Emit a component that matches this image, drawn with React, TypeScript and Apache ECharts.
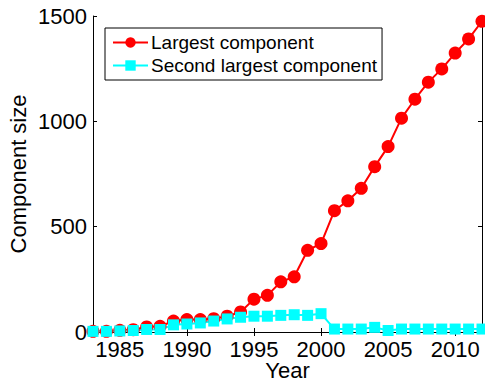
import React, { useEffect, useRef } from "react";
import * as echarts from "echarts";

const years = [
  1983, 1984, 1985, 1986, 1987, 1988, 1989, 1990, 1991, 1992, 1993, 1994, 1995, 1996, 1997,
  1998, 1999, 2000, 2001, 2002, 2003, 2004, 2005, 2006, 2007, 2008, 2009, 2010, 2011, 2012,
];
const largest = [
  3, 3, 8, 11, 24, 27, 52, 59, 59, 63, 75, 95, 156, 174, 238, 262, 388, 420, 576, 623, 682, 785,
  880, 1015, 1105, 1186, 1249, 1324, 1391, 1475,
];
const secondLargest = [
  3, 3, 5, 7, 12, 12, 34, 38, 43, 52, 62, 70, 75, 75, 79, 82, 79, 87, 14, 14, 14, 22, 7, 14, 14,
  14, 14, 14, 14, 14,
];
const yTicks = { min: 0, max: 1500, interval: 500 };

const FONT = "Liberation Sans, Arial, sans-serif";

export default function App() {
  const ref = useRef<HTMLDivElement>(null);
  useEffect(() => {
    if (!ref.current) return;
    const chart = echarts.init(ref.current, null, { renderer: "svg" });
    const cats = years.map(String);
    const showFive = (_i: number, v: string) => Number(v) % 5 === 0;
    chart.setOption({
      animation: false,
      textStyle: { fontFamily: FONT },
      grid: {
        left: 93,
        right: 3,
        top: 16,
        bottom: 46,
        containLabel: false,
        outerBoundsMode: "none",
      },
      legend: {
        orient: "vertical",
        left: 105,
        top: 28,
        padding: [5, 5, 5, 7],
        itemGap: 4,
        itemWidth: 35,
        itemHeight: 13,
        borderColor: "#000",
        borderWidth: 1,
        borderRadius: 0,
        backgroundColor: "#fff",
        textStyle: { fontFamily: FONT, fontSize: 19, color: "#000", padding: [0, 0, 0, -2] },
        data: ["Largest component", "Second largest component"],
      },
      xAxis: [
        {
          type: "category",
          data: cats,
          boundaryGap: false,
          name: "Year",
          nameLocation: "middle",
          nameGap: 27,
          nameMoveOverlap: false,
          nameTextStyle: { fontFamily: FONT, fontSize: 22, color: "#000" },
          axisLine: { lineStyle: { color: "#000", width: 1 } },
          axisTick: { inside: true, length: 4, interval: showFive, lineStyle: { color: "#000" } },
          axisLabel: {
            interval: showFive,
            fontFamily: FONT,
            fontSize: 22,
            color: "#000",
            margin: 6,
          },
          splitLine: { show: false },
        },
        {
          type: "category",
          data: cats,
          boundaryGap: false,
          position: "top",
          axisLine: { lineStyle: { color: "#000", width: 1 } },
          axisTick: { inside: true, length: 4, interval: showFive, lineStyle: { color: "#000" } },
          axisLabel: { show: false },
          splitLine: { show: false },
        },
      ],
      yAxis: [
        {
          type: "value",
          min: yTicks.min,
          max: yTicks.max,
          interval: yTicks.interval,
          name: "Component size",
          nameLocation: "middle",
          nameGap: 64,
          nameMoveOverlap: false,
          nameTextStyle: { fontFamily: FONT, fontSize: 22, color: "#000" },
          axisLine: { show: true, lineStyle: { color: "#000", width: 1 } },
          axisTick: { show: true, inside: true, length: 4, lineStyle: { color: "#000" } },
          axisLabel: {
            fontFamily: FONT,
            fontSize: 22,
            color: "#000",
            margin: 6,
            formatter: (v: number) => String(v),
          },
          splitLine: { show: false },
        },
        {
          type: "value",
          min: yTicks.min,
          max: yTicks.max,
          interval: yTicks.interval,
          position: "right",
          axisLine: { show: true, lineStyle: { color: "#000", width: 1 } },
          axisTick: { show: true, inside: true, length: 4, lineStyle: { color: "#000" } },
          axisLabel: { show: false },
          splitLine: { show: false },
        },
      ],
      series: [
        {
          name: "Largest component",
          type: "line",
          data: largest,
          symbol: "circle",
          symbolSize: 13,
          showAllSymbol: true,
          clip: false,
          lineStyle: { color: "#ff0000", width: 2 },
          itemStyle: { color: "#ff0000" },
        },
        {
          name: "Second largest component",
          type: "line",
          data: secondLargest,
          symbol: "rect",
          symbolSize: 11,
          showAllSymbol: true,
          clip: false,
          lineStyle: { color: "#00ffff", width: 2 },
          itemStyle: { color: "#00ffff" },
        },
      ],
    });
    return () => chart.dispose();
  }, []);
  return (
    <div
      ref={ref}
      style={{ position: "fixed", left: 0, top: 0, width: 485, height: 378, background: "#fff" }}
    />
  );
}
